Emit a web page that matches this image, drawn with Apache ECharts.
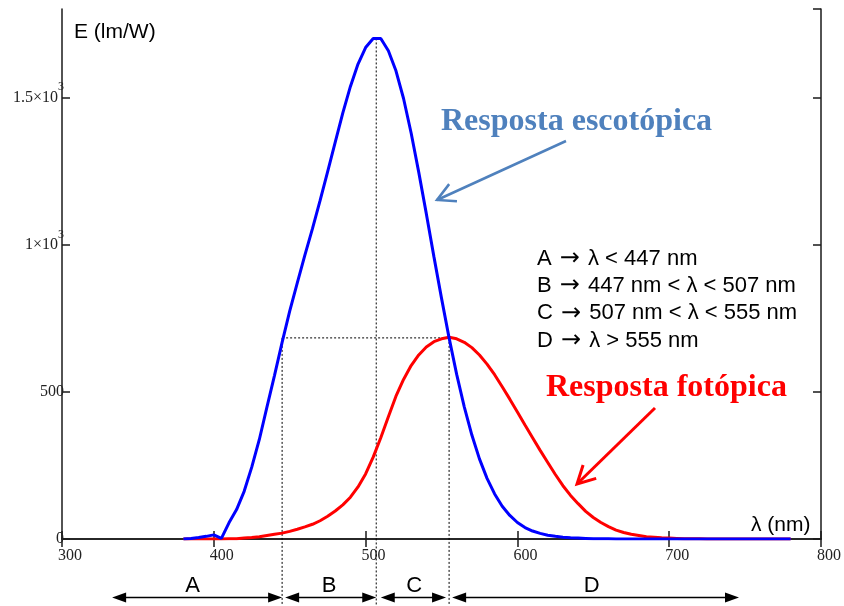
<!DOCTYPE html>
<html><head><meta charset="utf-8">
<script src="https://cdn.jsdelivr.net/npm/echarts@6/dist/echarts.min.js"></script>
<style>html,body{margin:0;padding:0;background:#fff}#c{width:844px;height:606px}</style>
</head><body><div id="c"></div>
<script>
// ---- data ----
const wavelengths = [380,385,390,395,400,405,410,415,420,425,430,435,440,445,450,455,460,465,470,475,
  480,485,490,495,500,505,510,515,520,525,530,535,540,545,550,555,560,565,570,575,
  580,585,590,595,600,605,610,615,620,625,630,635,640,645,650,655,660,665,670,675,
  680,685,690,695,700,705,710,715,720,725,730,735,740,745,750,755,760,765,770,775,780];
const scotopic = [0,2,5,9,14,2,55,100,162,244,338,448,556,668,774,870,964,1054,1149,1248,
  1348,1447,1537,1613,1669,1700,1700,1658,1590,1496,1379,1246,1105,959,818,683,559,449,353,272,
  206,153,111,80,56,39,27,19,13,9,6,4,3,2,1,1,1,0,0,0,
  0,0,0,0,0,0,0,0,0,0,0,0,0,0,0,0,0,0,0,0,0];
const photopic = [0,0,0,0,0,0,1,1,3,5,8,12,16,20,26,33,41,50,62,77,
  95,116,142,177,221,278,344,415,485,542,589,625,652,670,680,685,680,668,650,625,
  594,558,517,475,431,387,344,301,260,219,181,148,120,94,73,56,42,30,22,16,
  12,8,6,4,3,2,1,1,1,0,0,0,0,0,0,0,0,0,0,0,0];
const yTickValues = [0, 500, 1000, 1500];
const yTickMantissa = ['0', '500', '1×10', '1.5×10'];
const yTickExponent = ['', '', '3', '3'];
const regionNames = ['A', 'B', 'C', 'D'];
const regionStart = [333, 447, 510, 557];
const regionEnd = [445, 507, 553, 746];
const regionLabelX = [386, 476, 532, 649];
const boundaryLambda = [445, 507, 555];
const boundaryTopE = [683, 1700, 683];
const photopicPeakE = 683;
const legendLines = ['A → λ < 447 nm', 'B → 447 nm < λ < 507 nm', 'C → 507 nm < λ < 555 nm', 'D → λ > 555 nm'];
const yAxisTitle = 'E (lm/W)';
const xAxisTitle = 'λ (nm)';
const scotopicTitle = 'Resposta escotópica';
const photopicTitle = 'Resposta fotópica';

// ---- chart ----
const chart = echarts.init(document.getElementById('c'), null, {renderer: 'canvas', width: 844, height: 606});
const axisColor = '#1a1a1a';
const serif = '"Liberation Serif", "Times New Roman", serif';
const sans = '"Liberation Sans", Arial, sans-serif';
const blueText = '#4f81bd';
const labelColor = '#222';

function pairs(vals) { return wavelengths.map((w, i) => [w, vals[i]]); }
function headPoints(tip, tail, len, ang) {
  const dx = tail[0] - tip[0], dy = tail[1] - tip[1];
  const L = Math.hypot(dx, dy), ux = dx / L, uy = dy / L;
  const c = Math.cos(ang), s = Math.sin(ang);
  return [[tip[0] + len * (ux * c - uy * s), tip[1] + len * (ux * s + uy * c)], tip,
          [tip[0] + len * (ux * c + uy * s), tip[1] + len * (-ux * s + uy * c)]];
}
function arrowGraphic(tail, tip, color, width) {
  return [
    {type: 'line', shape: {x1: tail[0], y1: tail[1], x2: tip[0], y2: tip[1]}, style: {stroke: color, lineWidth: width}, z: 100},
    {type: 'polyline', shape: {points: headPoints(tip, tail, 20, 28 * Math.PI / 180)}, style: {stroke: color, lineWidth: width, fill: null}, z: 100}
  ];
}

const commonAxisLine = {show: true, lineStyle: {color: axisColor, width: 1.5}};
const commonTick = {show: true, inside: true, length: 8, lineStyle: {color: axisColor, width: 1.5}};

const option = {
  animation: false,
  backgroundColor: '#fff',
  grid: {left: 62, right: 23, top: 9, bottom: 67, containLabel: false},
  xAxis: [
    {type: 'value', min: 300, max: 800, interval: 100, position: 'bottom',
     axisLine: commonAxisLine, axisTick: commonTick, splitLine: {show: false},
     axisLabel: {fontFamily: serif, fontSize: 16, color: labelColor, margin: 9, padding: [0, 0, 0, 16]}},
    {type: 'value', min: 300, max: 800, interval: 100, position: 'top',
     axisLine: commonAxisLine, axisTick: commonTick, splitLine: {show: false}, axisLabel: {show: false}}
  ],
  yAxis: [
    {type: 'value', min: 0, max: 1800, interval: 500, position: 'left',
     axisLine: commonAxisLine, axisTick: commonTick, splitLine: {show: false},
     axisLabel: {
       margin: -2, showMaxLabel: false,
       formatter: function (v) {
         const i = yTickValues.indexOf(v);
         if (i < 0) return '';
         return yTickExponent[i] ? '{m|' + yTickMantissa[i] + '}{s|' + yTickExponent[i] + '}' : '{m|' + yTickMantissa[i] + '}';
       },
       rich: {
         m: {fontFamily: serif, fontSize: 16, color: labelColor},
         s: {fontFamily: serif, fontSize: 12, color: labelColor, padding: [0, 0, 20, 0]}
       }
     }},
    {type: 'value', min: 0, max: 1800, interval: 500, position: 'right',
     axisLine: commonAxisLine, axisTick: commonTick, splitLine: {show: false}, axisLabel: {show: false}}
  ],
  series: [
    {type: 'custom', name: 'guides', xAxisIndex: 0, yAxisIndex: 0, clip: false, silent: true, z: 1,
     data: [[300, 0]],
     renderItem: function (params, api) {
       const children = [];
       const dotted = {stroke: '#000', lineWidth: 1, lineDash: [2, 2]};
       const base = api.coord([300, 0])[1];
       const bottom = base + 67, arrowY = base + 58.5, letterY = base + 47;
       boundaryLambda.forEach(function (l, i) {
         const top = api.coord([l, boundaryTopE[i]]);
         children.push({type: 'line', shape: {x1: top[0], y1: top[1], x2: top[0], y2: bottom}, style: dotted});
       });
       const h1 = api.coord([boundaryLambda[0], photopicPeakE]);
       const h2 = api.coord([boundaryLambda[2], photopicPeakE]);
       children.push({type: 'line', shape: {x1: h1[0], y1: h1[1], x2: h2[0], y2: h2[1]}, style: dotted});
       regionNames.forEach(function (n, i) {
         const x1 = api.coord([regionStart[i], 0])[0], x2 = api.coord([regionEnd[i], 0])[0];
         children.push({type: 'line', shape: {x1: x1 + 10, y1: arrowY, x2: x2 - 10, y2: arrowY}, style: {stroke: '#000', lineWidth: 1.5}});
         children.push({type: 'polygon', shape: {points: [[x1, arrowY], [x1 + 14, arrowY - 5], [x1 + 14, arrowY + 5]]}, style: {fill: '#000'}});
         children.push({type: 'polygon', shape: {points: [[x2, arrowY], [x2 - 14, arrowY - 5], [x2 - 14, arrowY + 5]]}, style: {fill: '#000'}});
         const lx = api.coord([regionLabelX[i], 0])[0];
         children.push({type: 'text', style: {text: n, x: lx, y: letterY, fill: '#000', font: '22px ' + sans,
           align: 'center', verticalAlign: 'middle', textAlign: 'center', textVerticalAlign: 'middle'}});
       });
       return {type: 'group', children: children};
     }},
    {type: 'line', name: 'fotópica', data: pairs(photopic), showSymbol: false, symbol: 'none', z: 3,
     lineStyle: {color: '#ff0000', width: 3}, itemStyle: {color: '#ff0000'}},
    {type: 'line', name: 'escotópica', data: pairs(scotopic), showSymbol: false, symbol: 'none', z: 4,
     lineStyle: {color: '#0000ff', width: 3}, itemStyle: {color: '#0000ff'}}
  ],
  graphic: [].concat(
    [{type: 'text', x: 74, y: 32, style: {text: yAxisTitle, font: '21px ' + sans, fill: '#000', textAlign: 'left', textVerticalAlign: 'middle'}},
     {type: 'text', x: 751, y: 525, style: {text: xAxisTitle, font: '21px ' + sans, fill: '#000', textAlign: 'left', textVerticalAlign: 'middle'}},
     {type: 'text', x: 441, y: 122, style: {text: scotopicTitle, font: 'bold 32px ' + serif, fill: blueText, textAlign: 'left', textVerticalAlign: 'middle'}},
     {type: 'text', x: 546, y: 388, style: {text: photopicTitle, font: 'bold 32px ' + serif, fill: '#ff0000', textAlign: 'left', textVerticalAlign: 'middle'}}],
    legendLines.map(function (t, i) {
      const parts = t.split('→');
      return {type: 'text', x: 537, y: 259 + i * 27.2, style: {
        text: '{l|' + parts[0] + '}{r|→}{l|' + parts[1] + '}',
        textAlign: 'left', textVerticalAlign: 'middle',
        rich: {
          l: {fontFamily: sans, fontSize: 22, fill: '#000', color: '#000'},
          r: {fontFamily: '"DejaVu Sans", sans-serif', fontSize: 24, fill: '#000', color: '#000', padding: [0, 2, 0, 2]}
        }
      }};
    }),
    arrowGraphic([566, 141], [437, 200], blueText, 2.5),
    arrowGraphic([655, 408], [577, 484], '#ff0000', 3)
  )
};
chart.setOption(option);
</script>
</body></html>
